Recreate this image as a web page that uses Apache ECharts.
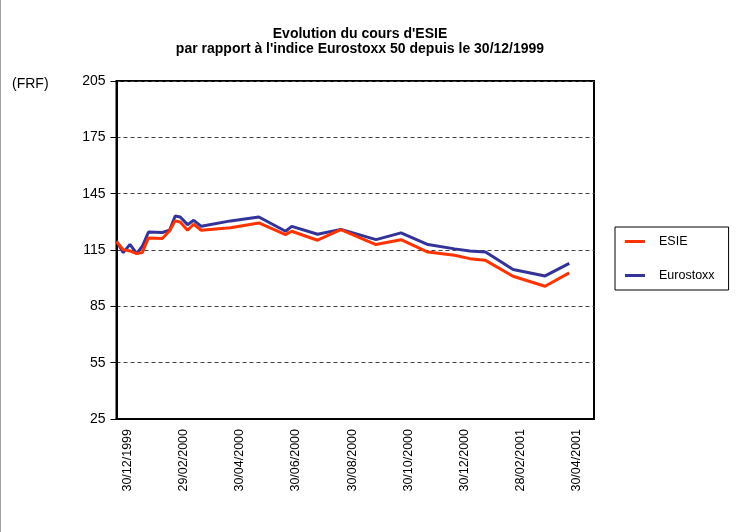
<!DOCTYPE html>
<html>
<head>
<meta charset="utf-8">
<title>Evolution du cours d'ESIE</title>
<script src="https://cdn.jsdelivr.net/npm/echarts@6/dist/echarts.min.js"></script>
<style>
  html, body { margin: 0; padding: 0; background: #fff; }
  #chart { width: 743px; height: 532px; }
</style>
</head>
<body>
<div id="chart"></div>
<script>
// x = months since 30/12/1999
const months = [0, 0.24, 0.48, 0.72, 0.92, 1.14, 1.63, 1.89, 2.09, 2.27, 2.53, 2.75, 3.02, 4.06, 5.07, 6.02, 6.24, 7.16, 7.99, 9.24, 10.13, 11.09, 12.04, 12.58, 13.14, 14.12, 15.26, 16.12]
const esie = [119.5, 115.2, 114.5, 113.1, 113.6, 121.4, 121.1, 125.1, 130.5, 129.9, 125.5, 128.7, 125.5, 126.9, 129.4, 123.2, 125, 120.2, 125.9, 117.9, 120.5, 113.9, 112.2, 110.4, 109.5, 101, 95.7, 102.8]
const eurostoxx = [119.8, 113.6, 118, 113.1, 117, 124.6, 124.3, 125.5, 133.1, 132.6, 128.5, 130.8, 127.6, 130.5, 132.6, 125, 127.6, 123.4, 126, 120.5, 124.1, 117.9, 115.6, 114.5, 113.9, 104.6, 101.2, 107.9]
const dateLabels = ['30/12/1999', '29/02/2000', '30/04/2000', '30/06/2000', '30/08/2000', '30/10/2000', '30/12/2000', '28/02/2001', '30/04/2001']
const yMin = 25
const yMax = 205
const yStep = 30

const font = "'Liberation Sans', Arial, sans-serif"

const chart = echarts.init(document.getElementById('chart'))

const toPairs = (vals) => vals.map((v, i) => [months[i], v])

const option = {
  animation: false,
  textStyle: { fontFamily: font },
  title: {
    text: "Evolution du cours d'ESIE\npar rapport à l'indice Eurostoxx 50 depuis le 30/12/1999",
    left: 355,
    textAlign: 'center',
    top: 22,
    textStyle: {
      fontFamily: font,
      fontSize: 14,
      fontWeight: 'bold',
      color: '#000',
      lineHeight: 15
    }
  },
  graphic: [
    {
      type: 'text',
      left: 12,
      top: 77,
      style: { text: '(FRF)', font: '14px ' + font, fill: '#000' }
    },
    {
      type: 'line',
      shape: { x1: 0.5, y1: 0, x2: 0.5, y2: 532 },
      style: { stroke: '#a0a0a0', lineWidth: 1 }
    }
  ],
  legend: {
    orient: 'vertical',
    left: 615,
    top: 227,
    padding: [8, 14, 8, 10],
    itemGap: 21,
    itemWidth: 20,
    itemHeight: 3,
    borderColor: '#000',
    borderWidth: 1,
    textStyle: { fontFamily: font, fontSize: 12.5, color: '#000', padding: [0, 0, 0, 9] },
    data: [
      { name: 'ESIE', icon: 'rect' },
      { name: 'Eurostoxx', icon: 'rect' }
    ]
  },
  grid: {
    left: 116.5,
    top: 81,
    right: 149,
    bottom: 113,
    show: true,
    borderColor: '#000',
    borderWidth: 2
  },
  xAxis: {
    type: 'value',
    min: 0,
    max: 17,
    interval: 2,
    axisLine: { show: true, lineStyle: { color: '#000', width: 2 } },
    axisTick: { show: false },
    splitLine: { show: false },
    axisLabel: {
      rotate: 90,
      margin: 10,
      fontSize: 12.5,
      color: '#000',
      fontFamily: font,
      verticalAlign: 'top',
      lineHeight: 22,
      showMaxLabel: false,
      formatter: (v) => (v % 2 === 0 && dateLabels[v / 2]) ? dateLabels[v / 2] : ''
    }
  },
  yAxis: {
    type: 'value',
    min: yMin,
    max: yMax,
    interval: yStep,
    axisLine: { show: true, lineStyle: { color: '#000', width: 2 } },
    axisTick: { show: true, length: 6, lineStyle: { color: '#000', width: 1 } },
    splitLine: { show: true, lineStyle: { color: '#444', width: 1, type: [4, 3] } },
    axisLabel: { margin: 11, fontSize: 14, color: '#000', fontFamily: font }
  },
  series: [
    {
      name: 'ESIE',
      type: 'line',
      data: toPairs(esie),
      symbol: 'none',
      lineStyle: { color: '#ff3300', width: 3 },
      itemStyle: { color: '#ff3300' },
      z: 3
    },
    {
      name: 'Eurostoxx',
      type: 'line',
      data: toPairs(eurostoxx),
      symbol: 'none',
      lineStyle: { color: '#333399', width: 3 },
      itemStyle: { color: '#333399' },
      z: 2
    }
  ]
}

chart.setOption(option)
</script>
</body>
</html>
